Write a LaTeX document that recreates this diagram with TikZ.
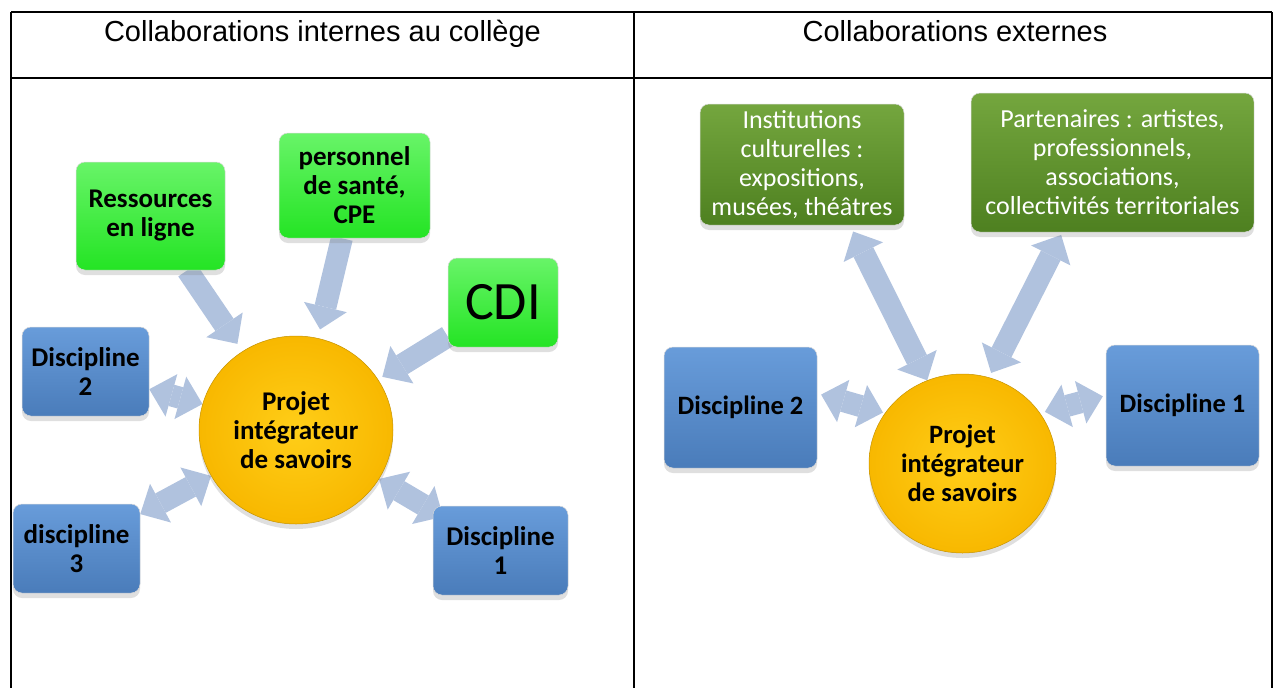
\documentclass[tikz,border=0pt]{standalone}
\usepackage{fontspec}
\setmainfont{Carlito}
\newfontfamily\arialfont{Liberation Sans}
\usetikzlibrary{arrows.meta,shapes.geometric,shadows,backgrounds}
\definecolor{vertvif}{RGB}{36,228,36}
\definecolor{vertclair}{RGB}{104,244,104}
\definecolor{vertfonce}{RGB}{78,128,32}
\definecolor{vertfonceclair}{RGB}{116,166,62}
\definecolor{bleu}{RGB}{74,124,186}
\definecolor{bleuclair}{RGB}{104,156,218}
\definecolor{jaune}{RGB}{248,184,0}
\definecolor{jauneclair}{RGB}{255,206,24}
\definecolor{fleche}{RGB}{176,194,222}

\begin{document}
\begin{tikzpicture}[x=1pt,y=-1pt,
  boite/.style={rectangle,rounded corners=9pt,inner sep=0pt,align=center,
    font=\fontsize{27}{29}\selectfont\bfseries,draw=black!15,line width=0.5pt,
    drop shadow={shadow xshift=0pt,shadow yshift=-5pt,opacity=0.25}},
  vert/.style={boite,top color=vertclair,bottom color=vertvif},
  sombre/.style={boite,top color=vertfonceclair,bottom color=vertfonce,text=white,
    font=\fontsize{26}{29}\selectfont},
  bleue/.style={boite,top color=bleuclair,bottom color=bleu},
  projet/.style={ellipse,inner sep=0pt,align=center,font=\fontsize{27}{29}\selectfont\bfseries,
    shading=radial,inner color=jauneclair,outer color=jaune,draw=jaune!80!black,line width=0.5pt,
    drop shadow={shadow xshift=0pt,shadow yshift=-5pt,opacity=0.25}},
  fl/.style={line width=22pt,color=fleche,-{Triangle[width=44pt,length=23pt,line width=0pt]}},
  dfl/.style={line width=22pt,color=fleche,
    {Triangle[width=44pt,length=23pt,line width=0pt]}-{Triangle[width=44pt,length=23pt,line width=0pt]}}]
\useasboundingbox (0,0) rectangle (1274,688);

% tableau
\draw [line width=1.6pt] (11,12) -- (1272,12);
\draw [line width=1.6pt] (11,78) -- (1272,78);
\draw [line width=1.6pt] (11,12) -- (11,688);
\draw [line width=1.6pt] (634,12) -- (634,688);
\draw [line width=1.6pt] (1272,12) -- (1272,688);
\node [font=\arialfont\fontsize{29}{33}\selectfont,anchor=base] (titreint) at (322.5,41) {Collaborations internes au collège};
\node [font=\arialfont\fontsize{29}{33}\selectfont,anchor=base] (titreext) at (955,41) {Collaborations externes};

% collaborations internes
\node [projet,minimum width=194pt,minimum height=188pt] (projint) at (296,430) {Projet\\intégrateur\\de savoirs};
\node [vert,minimum width=149pt,minimum height=108pt] (ress) at (150.5,216) {Ressources\\en ligne};
\node [vert,minimum width=151pt,minimum height=105pt] (pers) at (354.5,185.5) {personnel\\de santé,\\CPE};
\node [vert,minimum width=110pt,minimum height=89pt,font=\fontsize{54}{60}\selectfont] (cdi) at (503,302.5) {CDI};
\node [bleue,minimum width=127pt,minimum height=89pt] (discdeux) at (85.5,371.5) {Discipline\\2};
\node [bleue,minimum width=127pt,minimum height=89pt] (disctrois) at (76.5,548.5) {discipline\\3};
\node [bleue,minimum width=135pt,minimum height=89pt] (discun) at (500.5,550.5) {Discipline\\1};

% collaborations externes
\node [projet,minimum width=187pt,minimum height=179pt,font=\fontsize{26.5}{29}\selectfont\bfseries] (projext) at (962.5,463.5) {Projet\\intégrateur\\de savoirs};
\node [sombre,minimum width=204pt,minimum height=121pt] (inst) at (802,164.5) {Institutions\\culturelles :\\expositions,\\musées, théâtres};
\node [sombre,minimum width=283pt,minimum height=139pt] (part) at (1112.5,162.5) {Partenaires : artistes,\\professionnels,\\associations,\\collectivités territoriales};
\node [bleue,minimum width=153pt,minimum height=121pt,font=\fontsize{26.5}{29}\selectfont\bfseries] (extdeux) at (740.5,407.5) {Discipline 2};
\node [bleue,minimum width=153pt,minimum height=121pt,font=\fontsize{26.5}{29}\selectfont\bfseries] (extun) at (1182.5,405.5) {Discipline 1};

\begin{scope}[on background layer]
\draw [fl,shorten >=9pt] (ress) -- (projint);
\draw [fl,shorten >=9pt] (pers) -- (projint);
\draw [fl,shorten >=5pt] (cdi) -- (projint);
\draw [dfl] (discdeux) -- (projint);
\draw [dfl] (disctrois) -- (projint);
\draw [dfl,shorten <=-12pt] (discun) -- (projint);

\draw [dfl,shorten <=7pt] ([xshift=48pt]inst.south) -- (projext.113);
\draw [dfl,shorten <=3pt,shorten >=5pt] ([xshift=-50pt]part.south) -- (projext.73);
\draw [dfl,shorten <=4pt,shorten >=2pt] ([yshift=14pt]extdeux.east) -- (projext.147);
\draw [dfl,shorten <=3pt,shorten >=5pt] ([yshift=10pt]extun.west) -- (projext.33);
\end{scope}
\end{tikzpicture}
\end{document}
